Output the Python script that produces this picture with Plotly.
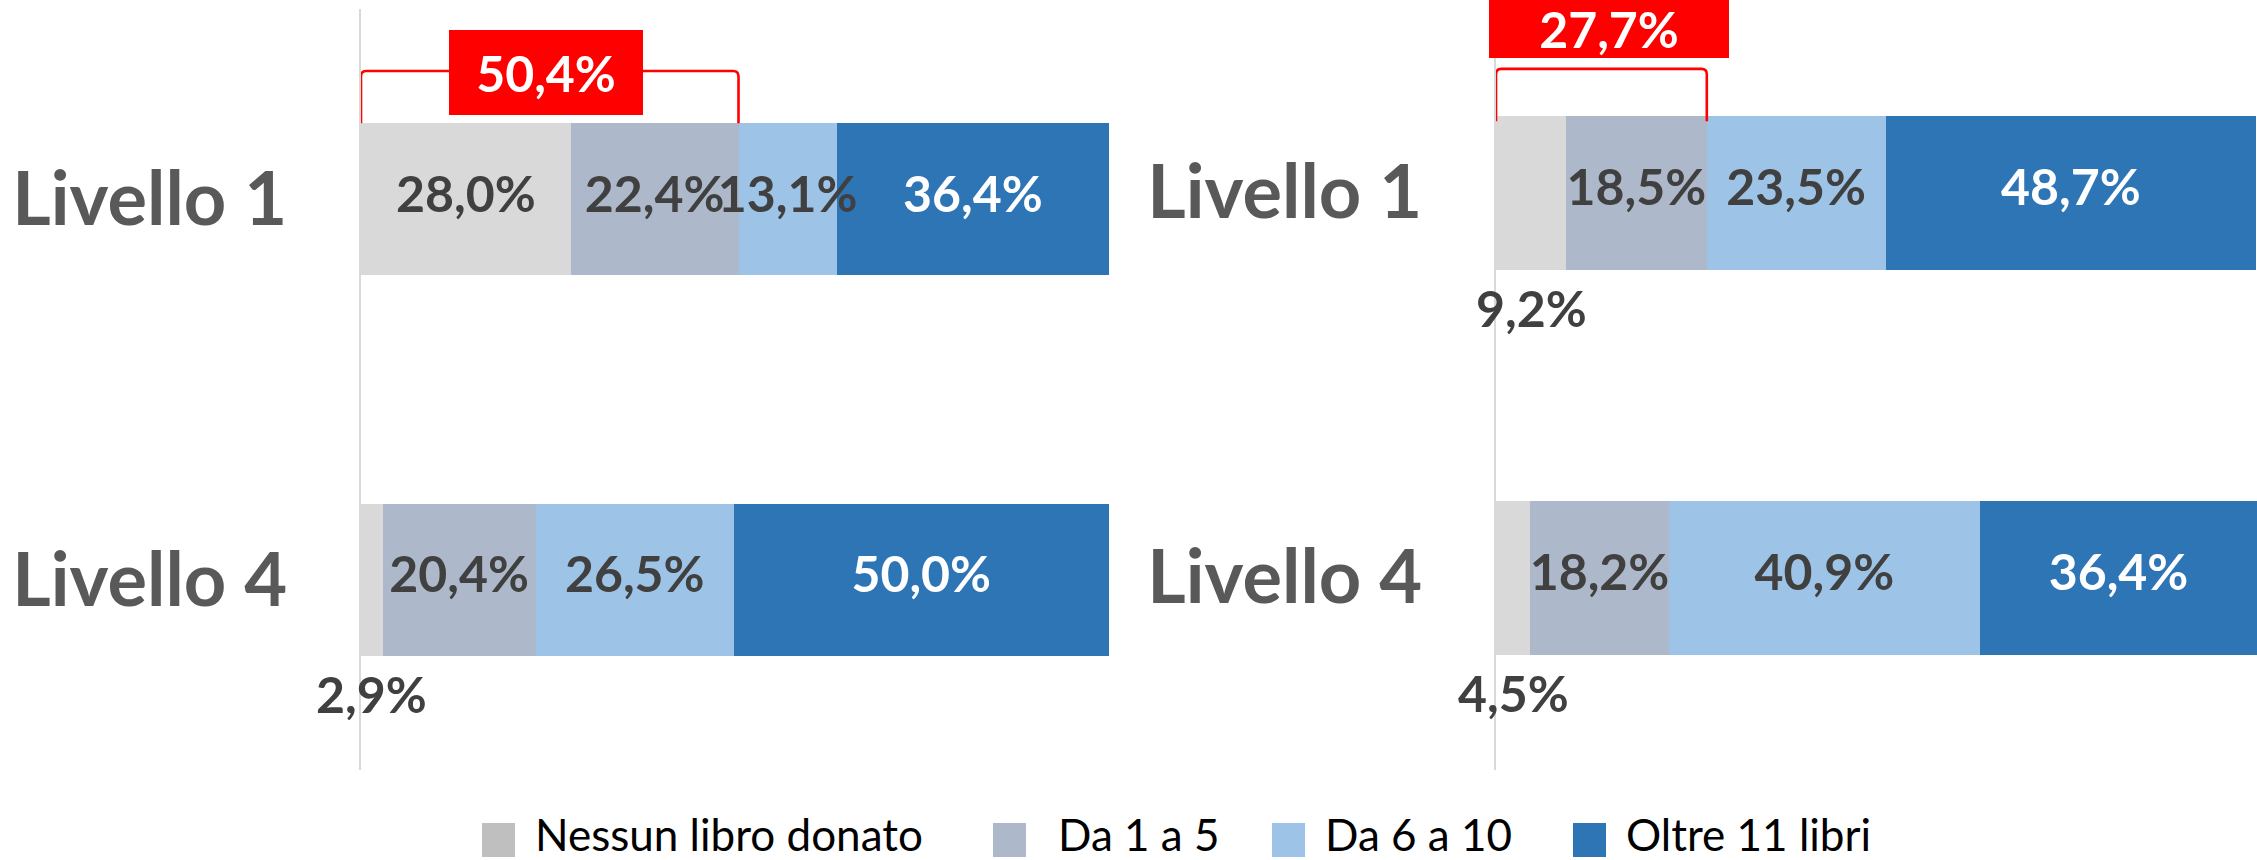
import plotly.graph_objects as go

# ---------------- data ----------------
levels = ["Livello 1", "Livello 4"]
series_names = ["Nessun libro donato", "Da 1 a 5", "Da 6 a 10", "Oltre 11 libri"]

left_nessun = [28.0, 2.9]
left_da1a5 = [22.4, 20.4]
left_da6a10 = [13.1, 26.5]
left_oltre11 = [36.4, 50.0]

right_nessun = [9.2, 4.5]
right_da1a5 = [18.5, 18.2]
right_da6a10 = [23.5, 40.9]
right_oltre11 = [48.7, 36.4]

# ---------------- styles ----------------
bar_colors = ["#D9D9D9", "#ADB9CA", "#9DC3E6", "#2E75B6"]
legend_colors = ["#BFBFBF", "#ADB9CA", "#9DC3E6", "#2E75B6"]
label_colors = ["#404040", "#404040", "#404040", "#FFFFFF"]
FONT = "Lato, Carlito, 'Open Sans', sans-serif"
W, H = 2257, 860


def fmt(v):
    return f"{v:.1f}".replace(".", ",") + "%"


def px_x(p):
    return p / W


def px_y(p):
    return 1 - p / H


fig = go.Figure()

panels = [
    dict(series=[left_nessun, left_da1a5, left_da6a10, left_oltre11], xa="x", ya="y",
         line_y=-0.337, leg_y=-0.2, box_y=-0.334, box_w=194, box_h=85, box_dx=-4),
    dict(series=[right_nessun, right_da1a5, right_da6a10, right_oltre11], xa="x2", ya="y2",
         line_y=-0.321, leg_y=-0.185, box_y=-0.424, box_w=240, box_h=58, box_dx=8),
]

ypos = list(range(len(levels)))
annotations = []
shapes = []
label_traces = []

for pn in panels:
    base = [0.0] * len(levels)
    for si, vals in enumerate(pn["series"]):
        fig.add_trace(go.Bar(
            y=ypos, x=vals, orientation="h", name=series_names[si],
            xaxis=pn["xa"], yaxis=pn["ya"],
            marker=dict(color=bar_colors[si], line=dict(width=0)),
            showlegend=False, hoverinfo="skip",
        ))
        # value labels (drawn afterwards, on top of all bars)
        lx, ly, lt = [], [], []
        for yi, v in enumerate(vals):
            if si == 0 and v < 10:
                # small first-series values labelled below the bar
                annotations.append(dict(
                    x=v / 2, y=yi + 0.3, xref=pn["xa"], yref=pn["ya"],
                    text=fmt(v), showarrow=False,
                    font=dict(family=FONT, size=50, color="#404040", weight="bold"),
                    xanchor="center", yanchor="middle"))
            else:
                lx.append(base[yi] + v / 2)
                ly.append(yi)
                lt.append(fmt(v))
            base[yi] += v
        if lt:
            label_traces.append(go.Scatter(
                x=lx, y=ly, text=lt, mode="text", xaxis=pn["xa"], yaxis=pn["ya"],
                textposition="middle center", cliponaxis=False,
                textfont=dict(family=FONT, size=50, color=label_colors[si], weight="bold"),
                showlegend=False, hoverinfo="skip"))
    # bracket over first two series of Livello 1
    s = round(pn["series"][0][0] + pn["series"][1][0], 1)
    yl, yb = pn["line_y"], pn["leg_y"]
    dx, dy = 0.7, 0.014
    path = (f"M 0,{yb} L 0,{yl + dy} Q 0,{yl} {dx},{yl} "
            f"L {s - dx},{yl} Q {s},{yl} {s},{yl + dy} L {s},{yb}")
    shapes.append(dict(type="path", path=path, xref=pn["xa"], yref=pn["ya"],
                       line=dict(color="#FF0000", width=2.6), layer="above"))
    annotations.append(dict(
        x=s / 2, y=pn["box_y"], xref=pn["xa"], yref=pn["ya"], xshift=pn["box_dx"],
        text=fmt(s), showarrow=False, bgcolor="#FF0000",
        width=pn["box_w"], height=pn["box_h"], borderpad=0, borderwidth=0,
        font=dict(family=FONT, size=50, color="#FFFFFF", weight="bold"),
        xanchor="center", yanchor="middle", align="center", valign="middle"))

for t in label_traces:
    fig.add_trace(t)

# manual legend (large square keys as in the reference)
legend_key_x = [482, 993, 1272, 1573]
legend_text_x = [533, 1056, 1323, 1624]
for i, name in enumerate(series_names):
    shapes.append(dict(type="rect", xref="paper", yref="paper",
                       x0=px_x(legend_key_x[i]), x1=px_x(legend_key_x[i] + 33),
                       y0=px_y(857), y1=px_y(823),
                       fillcolor=legend_colors[i], line=dict(width=0)))
    annotations.append(dict(x=px_x(legend_text_x[i]), y=px_y(834), xref="paper", yref="paper",
                            text=name, showarrow=False, xanchor="left", yanchor="middle",
                            font=dict(family=FONT, size=44, color="#000000")))

yaxis_common = dict(
    tickmode="array", tickvals=ypos, ticktext=levels, range=[1.5, -0.5],
    showline=True, linecolor="#D9D9D9", linewidth=2, layer="below traces",
    ticks="", showgrid=False, zeroline=False, ticklabelstandoff=57,
    tickfont=dict(family=FONT, size=74, color="#595959", weight="bold"),
)
xaxis_common = dict(range=[0, 100], visible=False, showgrid=False, zeroline=False)

fig.update_layout(
    width=W, height=H, autosize=False,
    margin=dict(l=0, r=0, t=0, b=0),
    paper_bgcolor="white", plot_bgcolor="white",
    barmode="stack", bargap=0.6,
    xaxis=dict(domain=[px_x(361), px_x(1110)], anchor="y", **xaxis_common),
    yaxis=dict(domain=[px_y(770), px_y(9)], anchor="x", **yaxis_common),
    xaxis2=dict(domain=[px_x(1496), 1.0], anchor="y2", **xaxis_common),
    yaxis2=dict(domain=[px_y(770), 1.0], anchor="x2", **yaxis_common),
    annotations=annotations, shapes=shapes,
    showlegend=False, hovermode=False,
)

fig.write_html("out.html", config={"displayModeBar": False},
               post_script="document.body.style.margin='0';")
